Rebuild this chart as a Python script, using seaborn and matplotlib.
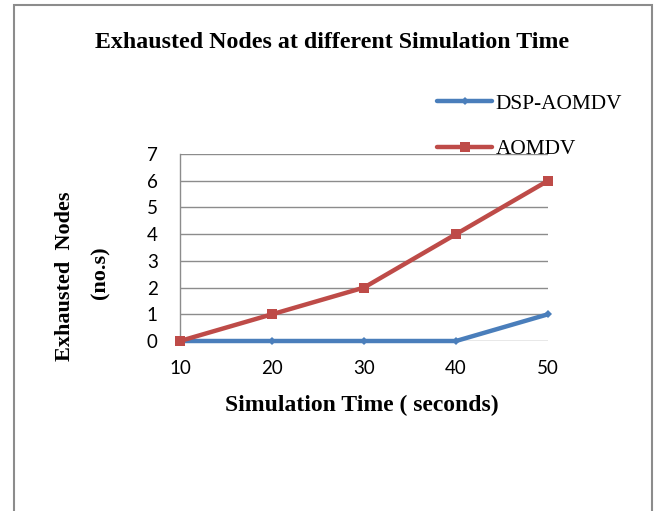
import matplotlib
matplotlib.use("Agg")
import matplotlib.pyplot as plt
import seaborn as sns
import pandas as pd
from matplotlib.patches import Rectangle

sim_time = [10, 20, 30, 40, 50]
dsp_aomdv = [0, 0, 0, 0, 1]
aomdv = [0, 1, 2, 4, 6]
y_ticks = [0, 1, 2, 3, 4, 5, 6, 7]
series_names = ["DSP-AOMDV", "AOMDV"]

df = pd.DataFrame({
    "time": sim_time * 2,
    "nodes": dsp_aomdv + aomdv,
    "series": [series_names[0]] * len(sim_time) + [series_names[1]] * len(sim_time),
})

sns.set_theme(style="white")
plt.rcParams["font.family"] = ["Lato", "DejaVu Sans"]
plt.rcParams["text.color"] = "black"

fig = plt.figure(figsize=(6.56, 5.11), dpi=100)
W, H = 656, 511
ax = fig.add_axes([180 / W, 1 - 341 / H, (548 - 180) / W, (341 - 154) / H])

colors = {"DSP-AOMDV": "#4A7EBB", "AOMDV": "#BE4B48"}
markers = {"DSP-AOMDV": "D", "AOMDV": "s"}
msizes = {"DSP-AOMDV": 4, "AOMDV": 7}
for name in series_names:
    sub = df[df["series"] == name]
    sns.lineplot(data=sub, x="time", y="nodes", ax=ax, color=colors[name],
                 marker=markers[name], markersize=msizes[name], linewidth=3.2,
                 markeredgewidth=0, label=name, clip_on=False, zorder=3)

ax.set_xlim(10, 50)
ax.set_ylim(0, 7)
ax.set_xticks(sim_time)
ax.set_yticks(y_ticks)
ax.grid(axis="y", color="#8C8C8C", linewidth=1.0)
ax.grid(axis="x", visible=False)
for s in ["top", "right", "bottom"]:
    ax.spines[s].set_visible(False)
ax.spines["left"].set_color("#8C8C8C")
ax.spines["left"].set_linewidth(1.0)
ax.tick_params(axis="both", length=0, labelsize=13.5, colors="black")
ax.tick_params(axis="y", pad=16)
ax.tick_params(axis="x", pad=14)
ax.set_xlabel("")
ax.set_ylabel("")

serif = ["Liberation Serif", "DejaVu Serif"]
fig.text(332 / W, 1 - 42 / H, "Exhausted Nodes at different Simulation Time",
         ha="center", va="center", fontsize=17.2, fontweight="bold", family=serif,
         color="black")
fig.text(362 / W, 1 - 405 / H, "Simulation Time ( seconds)",
         ha="center", va="center", fontsize=17, fontweight="bold", family=serif,
         color="black")
fig.text(65 / W, 1 - 276 / H, "Exhausted  Nodes", rotation=90,
         ha="center", va="center", fontsize=16, fontweight="bold", family=serif,
         color="black")
fig.text(100 / W, 1 - 273 / H, "(no.s)", rotation=90,
         ha="center", va="center", fontsize=16, fontweight="bold", family=serif,
         color="black")

ax.get_legend().remove()
handles, labels = ax.get_legend_handles_labels()
fig.legend(handles, labels, loc="upper left",
           bbox_to_anchor=(437 / W, 1 - 94 / H), frameon=False,
           prop={"family": serif, "size": 15.3}, handlelength=2.6,
           handletextpad=0.15, labelspacing=1.2, borderpad=0, borderaxespad=0,
           labelcolor="black")

fig.patches.append(Rectangle((14 / W, -0.05), (652 - 14) / W, 1 - 5 / H + 0.05,
                             transform=fig.transFigure, fill=False,
                             edgecolor="#8C8C8C", linewidth=1.5))

fig.savefig("out.png", dpi=100)
